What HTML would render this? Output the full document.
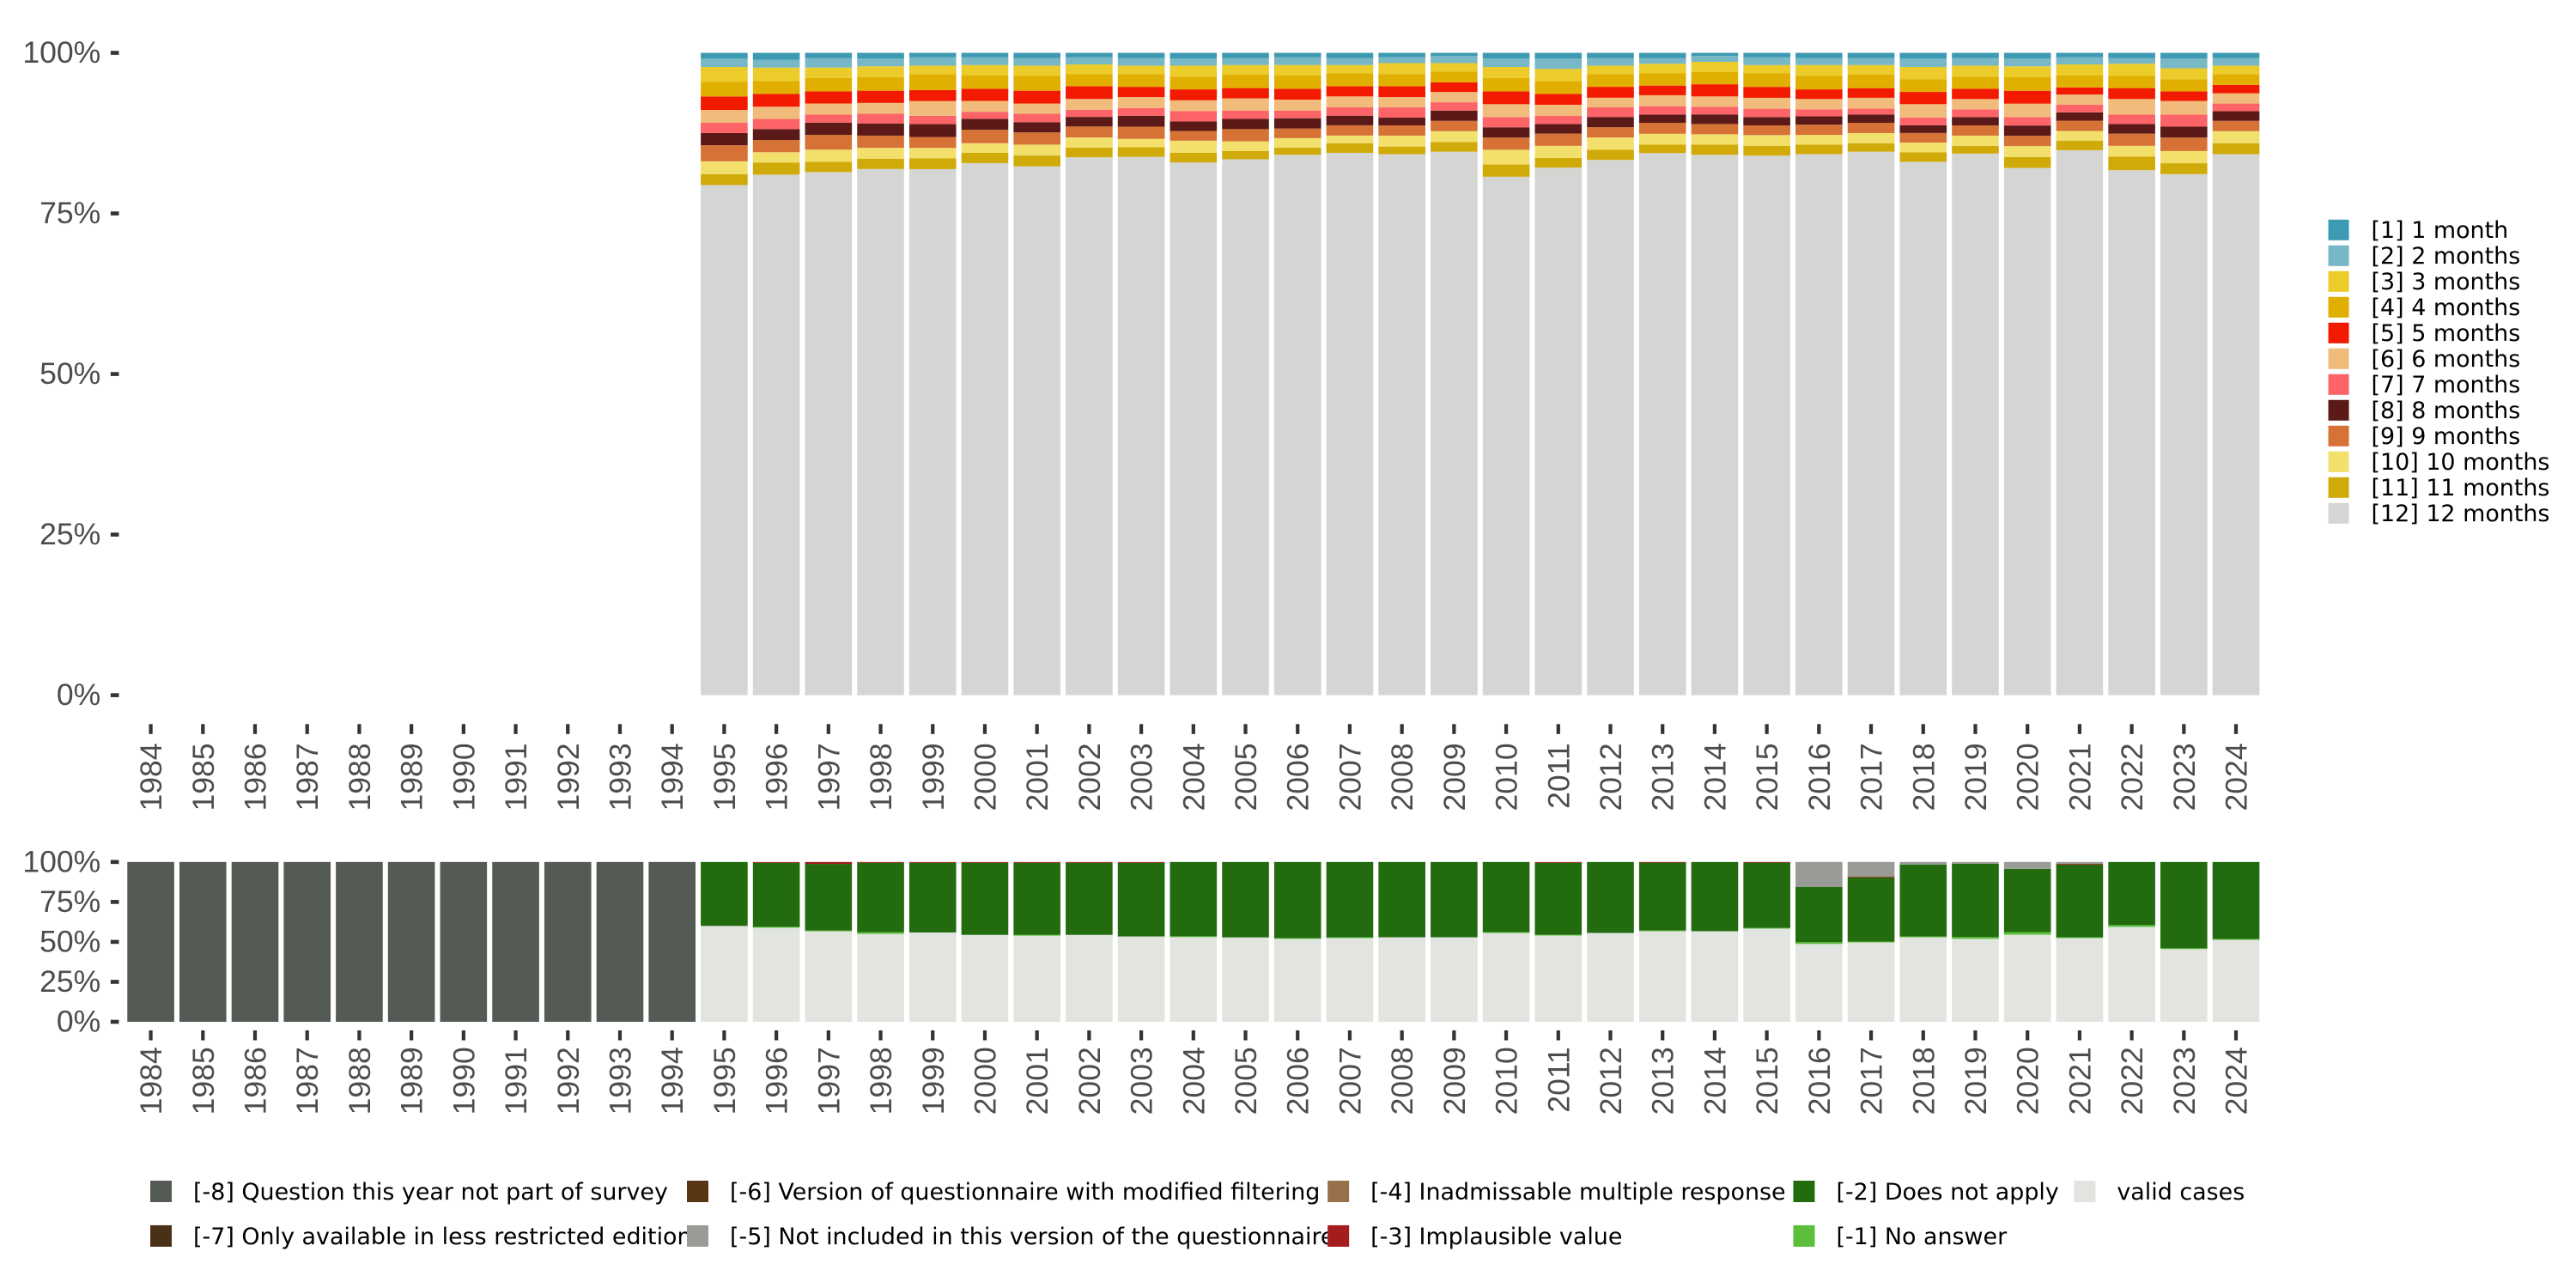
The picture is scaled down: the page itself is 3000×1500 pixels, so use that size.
<!DOCTYPE html>
<html><head><meta charset="utf-8"><style>
html,body{margin:0;padding:0;background:#fff;}
svg{display:block;font-family:"Liberation Sans",sans-serif;}
.lg{font-family:"DejaVu Sans","Liberation Sans",sans-serif;}
</style></head><body>
<svg id="chart" width="3000" height="1500" viewBox="0 0 1560 780" xmlns="http://www.w3.org/2000/svg">
<g id="top"></g>
<g id="bottom"></g>
<g id="legR" class="lg"></g>
<g id="legB" class="lg"></g>
</svg>
<script>
const years = [1984,1985,1986,1987,1988,1989,1990,1991,1992,1993,1994,1995,1996,1997,1998,1999,2000,2001,2002,2003,2004,2005,2006,2007,2008,2009,2010,2011,2012,2013,2014,2015,2016,2017,2018,2019,2020,2021,2022,2023,2024];
const topYears = [1995,1996,1997,1998,1999,2000,2001,2002,2003,2004,2005,2006,2007,2008,2009,2010,2011,2012,2013,2014,2015,2016,2017,2018,2019,2020,2021,2022,2023,2024];
const m1 = [0.9,1.1,0.8,0.9,0.7,0.7,0.8,0.7,0.8,0.9,0.8,0.7,0.8,0.7,0.5,0.9,0.9,0.8,0.8,0.5,0.7,0.8,0.8,0.9,0.8,0.9,0.7,0.8,0.9,0.8];
const m2 = [1.3,1.2,1.5,1.2,1.3,1.2,1.2,1.1,1.2,1.1,1.1,1.2,1.1,0.9,1.1,1.3,1.6,1.2,0.9,0.9,1.2,1.1,1.1,1.3,1.2,1.2,1.1,0.9,1.5,1.2];
const m3 = [2.3,2.1,1.6,1.7,1.3,1.6,1.6,1.5,1.3,1.7,1.5,1.6,1.3,1.7,1.3,1.7,1.9,1.3,1.5,1.6,1.3,1.7,1.5,1.9,1.7,1.7,1.7,1.9,1.7,1.3];
const m4 = [2.3,2.0,2.1,2.1,2.5,2.1,2.3,1.9,2.0,2.0,2.1,2.1,2.0,1.9,1.7,2.1,2.0,2.0,1.9,1.9,2.1,2.1,2.1,2.0,1.9,2.1,1.9,1.9,1.9,1.7];
const m5 = [2.1,2.0,1.9,1.9,1.7,1.9,2.0,2.0,1.6,1.7,1.6,1.7,1.6,1.7,1.5,2.0,1.7,1.7,1.5,1.9,1.7,1.5,1.5,1.9,1.6,2.0,1.1,1.7,1.5,1.3];
const m6 = [2.0,1.9,1.7,1.7,2.3,1.7,1.6,1.7,1.7,1.7,1.9,1.7,1.7,1.6,1.6,2.0,1.7,1.5,1.7,1.6,1.7,1.6,1.7,2.1,1.6,2.1,1.6,2.4,2.1,1.6];
const m7 = [1.6,1.6,1.3,1.5,1.3,1.1,1.3,1.1,1.2,1.6,1.3,1.2,1.3,1.6,1.3,1.6,1.3,1.5,1.3,1.2,1.3,1.1,0.9,1.2,1.2,1.3,1.2,1.5,1.9,1.2];
const m8 = [1.9,1.7,1.9,1.9,2.0,1.7,1.6,1.5,1.7,1.5,1.6,1.6,1.5,1.2,1.6,1.6,1.5,1.6,1.3,1.5,1.3,1.3,1.3,1.2,1.3,1.6,1.3,1.5,1.7,1.5];
const m9 = [2.5,1.9,2.3,1.9,1.7,2.1,1.9,1.7,1.9,1.5,1.9,1.5,1.6,1.6,1.6,1.9,1.9,1.6,1.7,1.6,1.5,1.6,1.6,1.5,1.6,1.6,1.6,1.9,2.1,1.6];
const m10 = [2.0,1.6,1.9,1.7,1.6,1.5,1.7,1.6,1.3,1.9,1.5,1.5,1.2,1.7,1.7,2.3,1.9,1.9,1.7,1.6,1.7,1.5,1.6,1.5,1.6,1.7,1.5,1.7,1.9,1.9];
const m11 = [1.7,1.9,1.6,1.6,1.7,1.6,1.7,1.5,1.5,1.5,1.3,1.1,1.5,1.2,1.5,1.9,1.5,1.6,1.3,1.6,1.5,1.5,1.3,1.5,1.2,1.7,1.5,2.1,1.7,1.7];
const m12 = [79.5,81.2,81.6,82.0,81.9,83.0,82.4,84.0,83.9,83.1,83.6,84.3,84.6,84.3,84.7,80.8,82.3,83.5,84.4,84.3,84.0,84.4,84.7,83.2,84.4,82.0,85.1,81.9,81.2,84.3];
const topLabels = ["[1] 1 month","[2] 2 months","[3] 3 months","[4] 4 months","[5] 5 months","[6] 6 months","[7] 7 months","[8] 8 months","[9] 9 months","[10] 10 months","[11] 11 months","[12] 12 months"];
const topColors = ["#3c9ab2","#78b7c5","#ebcc2a","#e1af00","#f21a00","#f1bb7b","#fd6467","#5b1a18","#d67236","#f3df6c","#d0aa08","#d5d5d3"];
const topSeries = [m1,m2,m3,m4,m5,m6,m7,m8,m9,m10,m11,m12];

const vValid = [0,0,0,0,0,0,0,0,0,0,0,60.0,58.9,56.6,55.0,55.9,54.4,53.9,54.4,53.4,53.0,52.8,51.9,52.4,52.9,52.9,55.6,54.0,55.6,56.7,56.7,58.3,48.7,49.7,52.9,51.9,54.5,52.4,59.4,45.5,51.3];
const vNoAnswer = [0,0,0,0,0,0,0,0,0,0,0,0,0.5,0.5,1.1,0,0,0.5,0,0,0.5,0,0.5,0.5,0,0,0.5,0.5,0,0.5,0,0.5,1.1,0.5,0.5,1.1,1.6,0.5,1.1,0.5,0.5];
const vNotApply = [0,0,0,0,0,0,0,0,0,0,0,40.0,40.1,41.7,43.4,43.6,45.1,45.1,45.1,46.1,46.5,47.2,47.6,47.1,47.1,47.1,43.9,45.0,44.4,42.4,43.3,40.8,34.7,40.2,45.0,45.9,39.6,45.5,39.5,54.0,48.2];
const vImplausible = [0,0,0,0,0,0,0,0,0,0,0,0,0.5,1.2,0.5,0.5,0.5,0.5,0.5,0.5,0,0,0,0,0,0,0,0.5,0,0.4,0,0.4,0,0.5,0,0,0,0.5,0,0,0];
const vNotIncluded = [0,0,0,0,0,0,0,0,0,0,0,0,0,0,0,0,0,0,0,0,0,0,0,0,0,0,0,0,0,0,0,0,15.5,9.1,1.6,1.1,4.3,1.1,0,0,0];
const vNotPart = [100,100,100,100,100,100,100,100,100,100,100,0,0,0,0,0,0,0,0,0,0,0,0,0,0,0,0,0,0,0,0,0,0,0,0,0,0,0,0,0,0];
const botSeries = [vValid,vNoAnswer,vNotApply,vImplausible,vNotIncluded,vNotPart];
const botColors = ["#e1e4df","#5bbf3c","#226b0e","#a51c1c","#999b96","#545b55"];
const botNames = ["valid","no-answer","does-not-apply","implausible","not-included","not-part"];
const yTicks = [0,25,50,75,100];
const yTickLabels = ["0%","25%","50%","75%","100%"];

const NS="http://www.w3.org/2000/svg";
function mk(parent,tag,attrs,text){const e=document.createElementNS(NS,tag);for(const k in attrs)e.setAttribute(k,attrs[k]);if(text!==undefined)e.textContent=text;parent.appendChild(e);return e;}
const x0=91.3, step=31.57, bw=28.4;
function xPos(year){return x0+(years.indexOf(year))*step;}
function yTop(p){return 421-(p/100)*389;}
function yBot(p){return 618.8-(p/100)*96.8;}

function axes(g,yf,tickY0,labY){
  yTicks.forEach((t,i)=>{
    const y=yf(t);
    const tk=mk(g,'rect',{x:67,y:y-1.2,width:5,height:2.4,fill:'#333'});
    
    
    const lb=mk(g,'text',{x:61,y:y+6,'text-anchor':'end','font-size':18.5,fill:'#4d4d4d'},yTickLabels[i]);
    
    
  });
  years.forEach(yr=>{
    const cx=xPos(yr);
    const tk=mk(g,'rect',{x:cx-1.1,y:tickY0,width:2.2,height:6,fill:'#333'});
    
    
    const lb=mk(g,'text',{x:0,y:0,'text-anchor':'end','font-size':18.5,fill:'#4d4d4d',transform:`translate(${cx+6.5},${labY}) rotate(-90)`},String(yr));
    
    
  });
}

const gt=document.getElementById('top');
topYears.forEach((yr,i)=>{
  let total=0; topSeries.forEach(s=>total+=s[i]);
  let cum=0;
  for(let k=topSeries.length-1;k>=0;k--){
    const v=topSeries[k][i]/total*100;
    const y1=yTop(cum+v), y0=yTop(cum);
    const r=mk(gt,'rect',{x:xPos(yr)-bw/2,y:y1,width:bw,height:y0-y1,fill:topColors[k]});
    
    
    cum+=v;
  }
});
axes(gt,yTop,438.5,450);

const gb=document.getElementById('bottom');
years.forEach((yr,i)=>{
  let cum=0;
  botSeries.forEach((s,k)=>{
    const v=s[i]; if(!v) return;
    const y1=yBot(cum+v), y0=yBot(cum);
    const r=mk(gb,'rect',{x:xPos(yr)-bw/2,y:y1,width:bw,height:y0-y1,fill:botColors[k]});
    
    
    cum+=v;
  });
});
axes(gb,yBot,624,634);

const gl=document.getElementById('legR');
topLabels.forEach((t,i)=>{
  const y=133+i*15.6;
  const r=mk(gl,'rect',{x:1410,y:y,width:12.5,height:12.5,fill:topColors[i]});
  
  
  const tx=mk(gl,'text',{x:1436,y:y+11,'font-size':14,fill:'#000'},t);
  
  
});

const legB=[
 [91,715,"#545b55","[-8] Question this year not part of survey"],
 [416,715,"#5a3714","[-6] Version of questionnaire with modified filtering"],
 [804,715,"#98704a","[-4] Inadmissable multiple response"],
 [1086,715,"#226b0e","[-2] Does not apply"],
 [1256,715,"#e1e4df","valid cases"],
 [91,742,"#4a3015","[-7] Only available in less restricted edition"],
 [416,742,"#999b96","[-5] Not included in this version of the questionnaire"],
 [804,742,"#a51c1c","[-3] Implausible value"],
 [1086,742,"#5bbf3c","[-1] No answer"]
];
const gbl=document.getElementById('legB');
legB.forEach(e=>{
  const r=mk(gbl,'rect',{x:e[0],y:e[1],width:13,height:13,fill:e[2]});
  
  
  const tx=mk(gbl,'text',{x:e[0]+26,y:e[1]+11.5,'font-size':14,fill:'#000'},e[3]);
  
  
});
</script>
</body></html>
